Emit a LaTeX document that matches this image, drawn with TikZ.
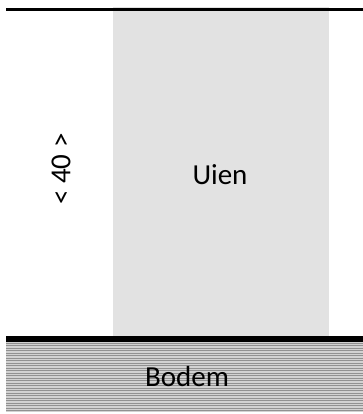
\documentclass[tikz,border=0pt]{standalone}
\usepackage{fontspec}
\setmainfont{Carlito}
\definecolor{uiengray}{RGB}{226,226,226}
\definecolor{bodemlight}{RGB}{210,210,210}
\definecolor{bodemdark}{RGB}{145,145,145}
\tikzset{
  lbl/.style={font=\fontsize{29}{32}\selectfont, inner sep=0pt, anchor=center},
  groundline/.style={line width=#1, black}
}
\begin{document}
\begin{tikzpicture}[x=1pt,y=-1pt]
\useasboundingbox (0,0) rectangle (363,414);
% Uien area
\fill[uiengray] (113,7) rectangle (329,336);
% Bodem area
\fill[bodemlight] (6,342) rectangle (363,412);
\foreach \yy in {343,345.5,...,411} {
  \draw[bodemdark, line width=1pt] (6,\yy) -- (363,\yy);
}
% lines
\draw[groundline=3.5pt] (6,9.5) -- (363,9.5);
\draw[groundline=6pt] (6,339) -- (363,339);
% labels
\node[lbl] (uien) at (220,175) {Uien};
\node[lbl] (bodem) at (187,377) {Bodem};
\node[lbl, rotate=90] (maat) at (61,169) {< 40 >};
\end{tikzpicture}
\end{document}
